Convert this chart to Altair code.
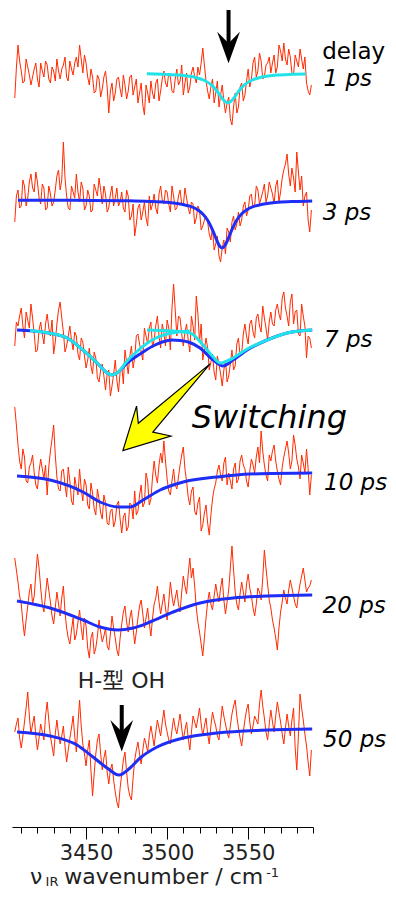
import altair as alt
import pandas as pd

# ---------------- data ----------------
WN_EVEN = [3406 + 2 * i for i in range(92)]  # measurement grid (cm-1), even points
WN_ODD = [3407 + 2 * i for i in range(92)]   # odd points

DELAYS = ["1 ps", "3 ps", "7 ps", "10 ps", "20 ps", "50 ps"]
OFFSETS = [754, 627, 497, 352, 229, 97]  # vertical stacking offsets

SIG_1PS_E = [-25, 28, 2, -8, 6, -12, 4, -6, 10, -4,
             8, -10, 2, 14, -6, 8, -4, 12, -2, 16,
             28, 0, 10, -12, -4, -18, -6, -16, 2, -40,
             -10, -20, -4, -24, -12, -18, -2, -14, -30, -10,
             -42, -20, -8, -26, -6, -18, 2, -14, -4, -20,
             4, -8, -22, 0, -14, 6, -10, -2, 25, -8,
             -26, -6, -20, -34, -12, -40, -24, -52, -20, -34,
             -10, -22, 4, -6, 16, 2, 12, -4, 10, 0,
             18, 6, 22, 30, 8, 16, -2, 12, 24, 4,
             -10, -22]
SIG_1PS_O = [5, 12, -10, 14, -2, -4, 10, -14, 2, 12,
             -6, 6, -8, 2, 4, 16, -8, 4, 10, 6,
             14, 18, -4, 4, -20, -2, -24, -4, -14, -18,
             -28, -6, -16, -2, -26, -4, -22, -6, -20, -32,
             -12, -30, -20, -10, -28, -6, -10, 0, -18, -6,
             -12, 8, -10, -20, 0, -4, 6, 10, 8, -18,
             -14, -30, -8, -22, -28, -30, -46, -34, -40, -14,
             -28, -8, -14, 10, -4, 20, -6, 8, 16, 10,
             0, 28, 12, 14, 24, 0, 18, 6, 14, 16,
             -18, -12]
SIG_3PS_E = [-22, 10, -6, 14, 2, 26, 8, 18, -4, 12,
             -8, 6, -2, 24, 10, 58, 4, -10, 8, 26,
             -2, 12, -6, 4, -10, 10, 22, -4, 6, -8,
             14, 2, -6, 8, -12, 4, -16, -36, -8, -20,
             -2, -26, -10, 6, -14, 14, -4, 8, -12, 4,
             -8, 10, -6, 2, -14, -4, -18, -10, -26, -16,
             -34, -28, -44, -56, -48, -54, -32, -22, -30, -12,
             -20, -2, -10, 6, -6, 10, 2, 16, 4, 12,
             -4, 20, 8, 30, 46, 14, 22, 48, 10, -6,
             8, -32]
SIG_3PS_O = [4, -8, 20, -6, 18, 12, 28, 2, 16, -10,
             14, -6, 10, 30, 20, 22, -8, 14, 2, 8,
             18, -10, 10, -12, 16, 4, 10, 14, -12, 6,
             -6, 12, -2, -8, 10, -20, -4, -24, -4, -12,
             -18, 4, -4, -8, 6, 0, 10, -4, 14, -10,
             4, -4, 12, -8, -2, -24, -6, -30, -20, -22,
             -40, -50, -36, -62, -40, -28, -42, -16, -24, -26,
             -6, -16, 4, -8, 14, -4, 8, -2, 18, 6,
             14, -2, 22, 36, 26, 32, 8, 28, 24, 4,
             -20, -10]
SIG_7PS_E = [-16, 4, 22, -8, 10, 26, -4, -20, 8, -14,
             16, -6, -24, 6, 28, -2, -16, 4, -20, -6,
             -30, -12, -38, -18, -44, -28, -52, -34, -60, -40,
             -56, -30, -62, -36, -20, -44, -16, -28, -4, -22,
             2, -14, 8, -10, 14, -18, -2, 10, -20, 46,
             -6, 12, -16, 6, -22, 4, 34, -12, -30, -8,
             -40, -24, -50, -34, -56, -30, -46, -20, -36, -8,
             -24, 6, -14, 10, -8, 16, -2, 12, -10, 18,
             4, 26, 10, 38, 14, 28, 6, 20, -6, 14,
             -28, -8]
SIG_7PS_O = [8, 14, 4, 18, 2, 12, -22, 0, -4, 6,
             2, 10, -12, 20, 12, -22, -6, -10, -2, -24,
             -8, -26, -30, -36, -22, -48, -40, -46, -44, -66,
             -44, -50, -42, -54, -32, -26, -38, -6, -14, -30,
             -6, 2, -18, 4, -6, 6, -16, 2, 22, 20,
             14, -4, -2, -10, 14, -10, 16, 6, -20, -18,
             -32, -42, -26, -44, -40, -52, -34, -40, -14, -26,
             -4, -6, 6, -2, 12, 4, 24, 2, 8, 6,
             20, 16, 32, 22, 4, 36, 18, -4, 26, 4,
             -6, -18]
SIG_10PS_E = [68, 30, 6, 18, -8, 12, 2, -14, 16, -4,
              -20, 24, 50, -2, -16, 6, -22, -6, -30, -12,
              6, -26, -10, -34, -18, -40, -24, -44, -28, -50,
              -34, -46, -26, -58, -38, -52, -30, -16, -36, -10,
              -28, -6, -24, 14, -8, 22, 34, -4, -20, 6,
              -14, 10, 28, -6, -30, -12, -40, -22, -50, -30,
              -60, -24, -8, 10, -6, 18, 2, -14, 12, -4,
              20, 6, -12, 16, 2, 28, 44, 10, -6, 14,
              30, 4, -10, 18, 34, 6, 40, 16, -4, 12,
              26, -20]
SIG_10PS_O = [50, 14, 26, -6, 8, 20, -10, 4, 6, 10,
              8, 36, 20, -14, 4, -10, 8, -26, -2, -20,
              -14, -4, -30, -8, -34, -14, -38, -20, -48, -36,
              -52, -30, -44, -42, -56, -28, -44, -40, -20, -32,
              2, -30, -2, 0, 10, 12, 14, -16, -6, -10,
              -2, 20, 6, -22, -16, -36, -28, -56, -38, -48,
              -40, -14, 4, 0, 12, -10, -6, 6, -8, 14,
              10, -6, 4, 10, 18, 12, 24, 0, 20, 24,
              14, -4, 8, 26, 22, 14, 30, 8, 20, 2,
              6, 0]
SIG_20PS_E = [40, 16, -6, -38, -8, 14, 2, 44, 10, -14,
              20, -4, -26, 6, -18, 12, -30, -46, -20, -36,
              -12, -42, -28, -60, -34, -50, -22, -44, -30, -52,
              -18, -40, -58, -26, -8, -34, -12, -46, -20, -2,
              -30, -10, -38, -6, 12, -16, 4, -22, 16, -8,
              8, -14, 22, 4, 40, 30, -10, -34, -58, -20,
              6, -12, 14, -4, 20, -16, 8, 52, 6, -12,
              16, -4, 24, 2, -18, 10, -2, 48, 14, -10,
              -30, -52, -14, 8, -6, 18, 2, -10, 14, 30,
              6, 12]
SIG_20PS_O = [28, 2, -24, -22, 6, -6, 24, 30, -6, 4,
              8, -18, -10, -6, 0, -14, -40, -32, -42, -24,
              -30, -20, -50, -40, -56, -38, -34, -38, -48, -36,
              -30, -52, -40, -14, -24, -20, -30, -34, -8, -16,
              -20, -26, -20, 0, -4, -6, -10, -4, 2, 0,
              -6, 6, 12, 24, 20, 12, -24, -46, -40, -4,
              -6, 2, 4, 10, -2, -4, 30, 28, -6, 4,
              6, 14, 10, -10, -6, 6, 20, 30, -2, -22,
              -40, -30, -4, 0, 8, 10, -6, 4, 22, 18,
              10, 18]
SIG_50PS_E = [-2, 12, -18, 8, 38, -4, 14, -20, 6, -10,
              28, -6, -26, 10, -14, 4, -32, -8, 14, -22,
              30, -14, -36, -10, -66, -24, -4, -40, -20, -54,
              -34, -62, -78, -44, -22, -58, -70, -30, -12, -34,
              -8, -22, 4, -16, 10, -6, 20, -2, -14, 12,
              -4, 16, -10, 8, -20, 14, 2, 22, -6, 12,
              -14, 18, 4, -10, 24, 6, -8, 16, 30, 2,
              -16, 10, 26, -4, 14, 6, 40, 12, -10, 20,
              -2, 28, 8, -14, 16, -6, 22, -40, 36, 10,
              -16, -46]
SIG_50PS_O = [6, -8, -6, 22, 14, 6, -6, -8, -2, 14,
              10, -16, -4, -4, -6, -16, -20, 2, -6, 6,
              4, -24, -20, -40, -44, -10, -24, -28, -42, -40,
              -50, -72, -58, -30, -42, -66, -48, -20, -24, -20,
              -14, -6, -6, -2, 2, 8, 6, -10, 0, 2,
              6, 2, 0, -8, -2, 8, 12, 6, 4, -4,
              4, 10, -6, 8, 14, -2, 4, 24, 14, -8,
              -2, 20, 8, 4, 10, 26, 24, -2, 6, 8,
              14, 18, -4, 2, 4, 10, -18, -6, 22, -4,
              -32, -20]
SIGNALS = [(SIG_1PS_E, SIG_1PS_O), (SIG_3PS_E, SIG_3PS_O), (SIG_7PS_E, SIG_7PS_O),
           (SIG_10PS_E, SIG_10PS_O), (SIG_20PS_E, SIG_20PS_O), (SIG_50PS_E, SIG_50PS_O)]

# fitted curves
FIT_1PS_CYAN_X = [3487.5, 3497.5, 3507.5, 3517.5, 3522.5, 3527.5, 3530.5, 3532.5, 3534.5, 3537.5,
                  3540.5, 3542.5, 3544.5, 3547.5, 3552.5, 3557.5, 3567.5, 3577.5, 3585.5]
FIT_1PS_CYAN_Y = [-0.8, -1.3, -2.1, -4.4, -7.0, -12.2, -17.5, -22.1, -26.5, -30,
                  -26.5, -22.1, -17.5, -12.2, -7.0, -4.4, -2.1, -1.3, -0.9]
FIT_3PS_X = [3408, 3434, 3454, 3474, 3489, 3499, 3509, 3514, 3519, 3522, 3525, 3527, 3529, 3531,
             3532.4, 3533.9, 3535.4, 3536.9, 3538.9, 3540.9, 3542.9, 3545.9, 3548.9, 3553.9,
             3558.9, 3568.9, 3578.9, 3589.5]
FIT_3PS_Y = [-0.2, -0.3, -0.4, -0.8, -1.4, -2.2, -4.2, -6.2, -10.0, -14.0, -20.3, -26.3, -33.8, -41.7,
             -46.2, -48, -46.2, -41.7, -33.8, -26.3, -20.3, -14.0, -10.0, -6.2,
             -4.2, -2.2, -1.4, -0.9]
FIT_7PS_X = [3407.4, 3417.3, 3427.8, 3438.3, 3448.1, 3456.8, 3463.0, 3466.0, 3469.1, 3475.3, 3483.3,
             3491.3, 3497.0, 3503.1, 3508.0, 3514.0, 3520.3, 3528.4, 3534.5, 3540.7, 3549.4, 3561.7,
             3574.1, 3589.5]
FIT_7PS_Y = [0, -1, -3.3, -8, -20, -33, -43, -45, -43, -33, -24,
             -16, -12, -10, -10.5, -12.5, -18, -30, -36, -30, -20, -10,
             -3, 0]
FIT_7PS_CYAN_A_X = [3415.4, 3427.8, 3438.3, 3448.1, 3456.8, 3463.0, 3466.0, 3469.1, 3475.3, 3481.0,
                    3487.0, 3493.0, 3500.0, 3507.0, 3514.0]
FIT_7PS_CYAN_A_Y = [-0.5, -3.3, -8, -20, -33, -43, -45, -43, -31, -22,
                    -14, -8, -4, -2, -1]
FIT_7PS_CYAN_B_X = [3487.6, 3503.7, 3514.2, 3522.2, 3528.4, 3532.7, 3537.0, 3540.7, 3549.4, 3561.7,
                    3574.1, 3589.5]
FIT_7PS_CYAN_B_Y = [0, -1, -3, -15, -27, -33, -31, -28, -19, -10, -3, 0]
FIT_10PS_X = [3407.4, 3427.8, 3448.1, 3458.6, 3469.7, 3477.1, 3485.2, 3495.7, 3509.9, 3530.8, 3551.2, 3589.5]
FIT_10PS_Y = [-1, -5, -17, -27, -32, -32, -25, -15, -7, -2, 1, 2]
FIT_20PS_X = [3407.4, 3427.8, 3448.1, 3458.6, 3469.7, 3479.0, 3489.5, 3503.7, 3520.3, 3540.7, 3561.7, 3589.5]
FIT_20PS_Y = [-3, -10, -22, -29, -32, -30, -24, -14, -5, 0, 2, 3]
FIT_50PS_X = [3407.4, 3427.8, 3444.4, 3454.3, 3463.0, 3470.3, 3477.1, 3483.3, 3493.8, 3509.9, 3530.8,
              3561.7, 3589.5]
FIT_50PS_Y = [-2, -6, -15, -27, -38, -45, -38, -28, -17, -8, -3, 0, 1]

TICKS = [3410, 3420, 3430, 3440, 3450, 3460, 3470, 3480, 3490, 3500,
         3510, 3520, 3530, 3540, 3550, 3560, 3570, 3580, 3590]

LABELS = ["delay", "1 ps", "3 ps", "7 ps", "10 ps", "20 ps", "50 ps"]
LABEL_X = [3595.7, 3596.5, 3596.0, 3596.8, 3596.8, 3595.9, 3596.2]
LABEL_Y = [768, 741, 607, 480, 337, 214, 80]
LABEL_STYLE = ["normal", "italic", "italic", "italic", "italic", "italic", "italic"]

# ---------------- styles ----------------
RED = "#ff2a00"
BLUE = "#1f2ef5"
CYAN = "#1fe3e8"
FONT = "DejaVu Sans"

xs = alt.Scale(domain=[3404.3, 3590], nice=False, zero=False)
ys = alt.Scale(domain=[0, 819], nice=False, zero=False)

rows = []
for d, off, (ev, od) in zip(DELAYS, OFFSETS, SIGNALS):
    for x, v in zip(WN_EVEN, ev):
        rows.append({"delay": d, "wn": x, "val": off + v})
    for x, v in zip(WN_ODD, od):
        rows.append({"delay": d, "wn": x, "val": off + v})
trace_df = pd.DataFrame(rows).sort_values(["delay", "wn"])


def fit_frame(name, off, xv, yv):
    return pd.DataFrame({"name": name, "wn": xv, "val": [off + v for v in yv]})


blue_df = pd.concat([
    fit_frame("3", OFFSETS[1], FIT_3PS_X, FIT_3PS_Y),
    fit_frame("7", OFFSETS[2], FIT_7PS_X, FIT_7PS_Y),
    fit_frame("10", OFFSETS[3], FIT_10PS_X, FIT_10PS_Y),
    fit_frame("20", OFFSETS[4], FIT_20PS_X, FIT_20PS_Y),
    fit_frame("50", OFFSETS[5], FIT_50PS_X, FIT_50PS_Y),
])
cyan_df = pd.concat([
    fit_frame("1", OFFSETS[0], FIT_1PS_CYAN_X, FIT_1PS_CYAN_Y),
    fit_frame("7a", OFFSETS[2], FIT_7PS_CYAN_A_X, FIT_7PS_CYAN_A_Y),
    fit_frame("7b", OFFSETS[2], FIT_7PS_CYAN_B_X, FIT_7PS_CYAN_B_Y),
])

X_AXIS = alt.Axis(
    values=TICKS,
    format="d",
    labelExpr="datum.value % 50 === 0 ? datum.label : ''",
    tickSize={"condition": {"test": "datum.value % 50 === 0", "value": 12}, "value": 6},
    tickColor="black",
    tickWidth=1,
    domainColor="black",
    domainWidth=1,
    grid=False,
    labelFont=FONT,
    labelFontSize=21,
    labelColor="#222222",
    labelPadding=3,
    title=None,
)


def X():
    return alt.X("wn:Q", scale=xs, axis=X_AXIS)


Y = alt.Y("val:Q", scale=ys, axis=None)

red = alt.Chart(trace_df).mark_line(color=RED, strokeWidth=1).encode(
    x=X(), y=Y, detail="delay:N")
blue = alt.Chart(blue_df).mark_line(color=BLUE, strokeWidth=3, interpolate="monotone").encode(
    x=X(), y=Y, detail="name:N")
cyan = alt.Chart(cyan_df).mark_line(color=CYAN, strokeWidth=3, interpolate="monotone").encode(
    x=X(), y=Y, detail="name:N")

# arrows
shaft_df = pd.DataFrame({"wn": [3537.9, 3472.0], "val": [817, 122], "val2": [784, 92]})
shafts = alt.Chart(shaft_df).mark_rule(color="black", strokeWidth=4).encode(
    x=X(), y=Y, y2="val2:Q")
HEAD = "M-0.72,-1 L0,-0.27 L0.72,-1 L0,1 Z"
head_df = pd.DataFrame({"wn": [3537.9, 3472.0], "val": [779.5, 91.2]})
heads = alt.Chart(head_df).mark_point(shape=HEAD, filled=True, color="black", size=1000,
                                      opacity=1, strokeWidth=0).encode(x=X(), y=Y)

YELLOW = "M0.99,-0.99 L-0.64,0.36 L-0.68,-0.03 L-0.99,0.98 L0.1,0.65 L-0.31,0.56 Z"
ydf = pd.DataFrame({"wn": [3499.6], "val": [419.6]})
yellow = alt.Chart(ydf).mark_point(shape=YELLOW, filled=True, fill="#ffff00", stroke="black",
                                   strokeWidth=1.2, size=7744, opacity=1).encode(x=X(), y=Y)

# texts
lab_df = pd.DataFrame({"wn": LABEL_X, "val": LABEL_Y, "t": LABELS, "st": LABEL_STYLE})
labels_n = alt.Chart(lab_df[lab_df.st == "normal"]).mark_text(
    align="left", baseline="alphabetic", font=FONT, fontSize=23, color="black").encode(
    x=X(), y=Y, text="t:N")
labels_i = alt.Chart(lab_df[lab_df.st == "italic"]).mark_text(
    align="left", baseline="alphabetic", font=FONT, fontSize=23, fontStyle="italic",
    color="black").encode(x=X(), y=Y, text="t:N")

sw = alt.Chart(pd.DataFrame({"wn": [3515.2], "val": [398.7], "t": ["Switching"]})).mark_text(
    align="left", baseline="alphabetic", font=FONT, fontSize=32, fontStyle="italic",
    color="black").encode(x=X(), y=Y, text="t:N")

hoh = alt.Chart(pd.DataFrame({"wn": [3471.8], "val": [139], "t": ["H-型 OH"]})).mark_text(
    align="center", baseline="alphabetic", font="DejaVu Sans, Noto Sans CJK JP", fontSize=22,
    color="#222222").encode(x=X(), y=Y, text="t:N")

# x-axis title pieces (nu_IR wavenumber / cm^-1)
t_big = alt.Chart(pd.DataFrame({"wn": [3415.4, 3436.6], "val": [-57, -57],
                                "t": ["ν", "wavenumber / cm"]})).mark_text(
    align="left", baseline="alphabetic", font=FONT, fontSize=22, color="#222222").encode(
    x=X(), y=Y, text="t:N")
t_small = alt.Chart(pd.DataFrame({"wn": [3425.0, 3561.1], "val": [-59, -50],
                                  "t": ["IR", "-1"]})).mark_text(
    align="left", baseline="alphabetic", font=FONT, fontSize=13, color="#222222").encode(
    x=X(), y=Y, text="t:N")

chart = alt.layer(
    red, blue, cyan, shafts, heads, yellow, labels_n, labels_i, sw, hoh, t_big, t_small
).properties(
    width=301, height=819,
    autosize=alt.AutoSizeParams(type="none"),
    padding={"left": 4, "top": 0, "right": 75, "bottom": 61},
).configure_view(strokeWidth=0)

chart.save("out.html", embed_options={"renderer": "svg", "actions": False})
